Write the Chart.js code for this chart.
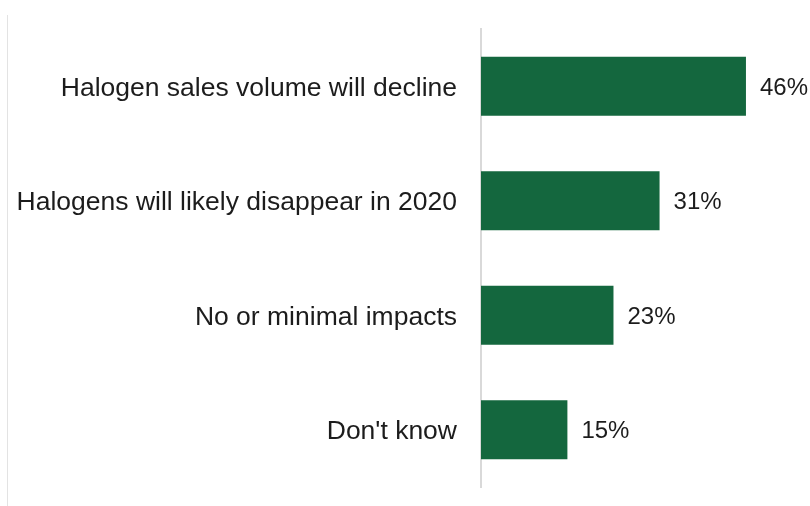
<!DOCTYPE html>
<html>
<head>
<meta charset="utf-8">
<script src="https://cdn.jsdelivr.net/npm/chart.js@4"></script>
<style>
  html, body { margin: 0; padding: 0; background: #fff; }
  #wrap { position: relative; width: 810px; height: 506px; }
  #wrap canvas { display: block; }
  #edge { position: absolute; left: 7px; top: 15px; bottom: 0; border-left: 1px solid #e3e3e3; }
</style>
</head>
<body>
<div id="wrap">
  <div id="edge"></div>
  <canvas id="impactChart" width="810" height="506"></canvas>
</div>
<script>
// Expected impacts of the halogen phase-out (share of respondents)
const categories = [
    'Halogen sales volume will decline',
    'Halogens will likely disappear in 2020',
    'No or minimal impacts',
    "Don't know"
];
const shares = [46, 31, 23, 15];

const barGreen = '#14673e';
const fontFamily = "'Liberation Sans', Arial, sans-serif";

// Writes the percentage just past the end of each bar
const valueLabels = {
    id: 'valueLabels',
    afterDatasetsDraw(chart) {
        const ctx = chart.ctx;
        const meta = chart.getDatasetMeta(0);
        ctx.save();
        ctx.font = `24px ${fontFamily}`;
        ctx.fillStyle = '#1c1c1c';
        ctx.textAlign = 'left';
        ctx.textBaseline = 'middle';
        meta.data.forEach((bar, i) => {
            ctx.fillText(shares[i] + '%', bar.x + 14, bar.y + 2);
        });
        ctx.restore();
    }
};

const ctx = document.getElementById('impactChart').getContext('2d');
new Chart(ctx, {
    type: 'bar',
    data: {
        labels: categories,
        datasets: [{
            data: shares,
            backgroundColor: barGreen,
            borderWidth: 0,
            barPercentage: 0.515,
            categoryPercentage: 1
        }]
    },
    options: {
        indexAxis: 'y',
        responsive: false,
        animation: false,
        layout: {
            padding: { top: 29, bottom: 19, left: 0, right: 41 }
        },
        plugins: {
            legend: { display: false },
            tooltip: { enabled: false }
        },
        scales: {
            x: {
                display: false,
                min: 0,
                max: 50
            },
            y: {
                afterFit(scale) {
                    // fixed label column; no extra room above/below for labels
                    scale.width = 481;
                    scale.paddingTop = 0;
                    scale.paddingBottom = 0;
                },
                grid: { display: false, drawTicks: false },
                border: { display: true, color: '#d9d9d9', width: 2 },
                ticks: {
                    color: '#1c1c1c',
                    font: { family: fontFamily, size: 26.5 },
                    padding: 24,
                    labelOffset: 2
                }
            }
        }
    },
    plugins: [valueLabels]
});
</script>
</body>
</html>
